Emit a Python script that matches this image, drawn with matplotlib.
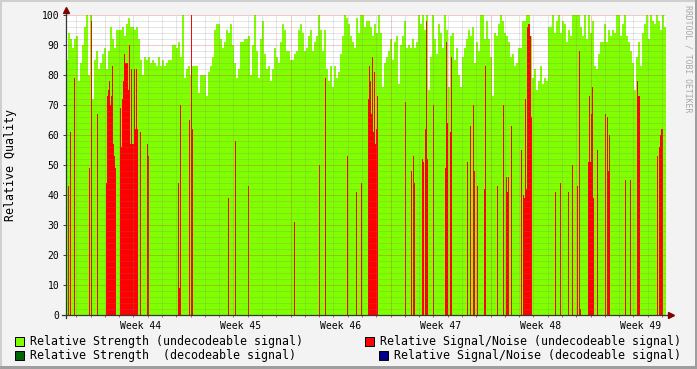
import numpy as np
import matplotlib
matplotlib.use("Agg")
import matplotlib.pyplot as plt
from matplotlib.patches import Rectangle

W, H = 697, 369

# relative strength (undecodeable), one value per 2 samples
strength_a = [85, 94, 92, 89, 92, 93, 78, 84, 90, 96, 100, 80, 100, 72, 85, 88, 82, 84, 87, 89,
              82, 88, 96, 92, 89, 95, 95, 95, 96, 93, 97, 99, 96, 96, 95, 96, 92, 85, 80, 86,
              85, 86, 84, 85, 84, 83, 86, 83, 85, 83, 84, 85, 85, 90, 90, 89, 91, 86, 100, 79,
              82, 83, 80, 83, 83, 83, 74, 80, 80, 80, 73, 81, 83, 86, 95, 97, 97, 92, 89, 91,
              95, 94, 97, 90, 84, 79, 82]
strength_b = [91, 91, 92, 92, 93, 80, 90, 100, 88, 79, 92, 98, 87, 82, 83, 78, 82, 89, 86, 84,
              91, 97, 95, 88, 88, 85, 85, 87, 88, 95, 97, 94, 88, 89, 93, 95, 88, 91, 93, 100,
              95, 88, 95, 82, 78, 83, 76, 83, 79, 81, 87, 93, 100, 99, 97, 93, 91, 89, 99, 94,
              100, 100, 96, 98, 98, 96, 93, 97, 94, 100, 94, 76, 84, 86, 88, 92, 85, 91, 93, 77,
              90, 93, 98, 89, 90, 89, 92, 89, 91, 100, 97, 100, 95, 100, 75, 86, 100, 92, 87, 97,
              94, 89, 100, 95, 76, 93, 94, 85, 89, 80, 76, 86, 89, 92, 95]
strength_c = [93, 96, 84, 91, 88, 100, 100, 92, 98, 92, 86, 73, 94, 93, 97, 100, 98, 94, 93, 91,
              86, 87, 83, 84, 89, 89, 98, 98, 100, 100, 93, 79, 82, 75, 78, 83, 77, 79, 78, 96,
              96, 100, 94, 98, 100, 94, 98, 97, 91, 95, 93, 100, 100, 100, 100, 96, 93, 100, 92, 100,
              94, 98, 83, 82, 87, 91, 91, 97, 91, 95, 93, 95, 94, 100, 100, 93, 97, 100, 93, 91,
              88, 84, 75, 86, 91, 83, 94, 97, 100, 92, 100, 98, 97, 100, 98, 95, 100, 96]

# relative signal/noise (undecodeable): sample index -> value
snr_idx = [2, 4, 8, 23, 25, 31,
           40, 41, 42, 43, 44, 45, 46, 47, 48, 49,
           54, 55, 56, 57, 58, 59, 60, 61, 62, 63, 64, 65, 66, 67, 68, 69, 70, 71, 74, 81, 82,
           112, 113, 114, 123, 125, 126, 162, 169, 182,
           228, 253, 259, 281, 290, 295,
           302, 303, 304, 305, 306, 307, 308, 309, 310, 311,
           339, 345, 347, 348, 356, 357, 359, 360, 361, 367, 379, 380, 381, 384, 385, 401, 404,
           407, 408, 411,
           418, 419, 431, 437, 440, 441, 442, 445, 455, 457, 458, 459, 460, 461, 462, 463, 464, 465,
           489, 494, 502, 506, 511, 513, 514, 522, 523, 524, 525, 526, 527, 531, 539, 541, 542, 543,
           559, 564, 571, 572, 573, 591, 593, 594, 595, 596]
snr_val = [43, 61, 79, 49, 98, 67,
           44, 73, 75, 78, 70, 73, 83, 57, 53, 49,
           69, 56, 72, 78, 87, 84, 84, 84, 75, 90, 57, 82, 57, 57, 82, 62, 82, 62, 61, 57, 53,
           44, 9, 70, 65, 100, 62, 39, 58, 43,
           31, 50, 79, 53, 41, 44,
           72, 83, 78, 67, 86, 61, 81, 57, 62, 73,
           71, 48, 53, 44, 52, 51, 62, 98, 52, 70, 49, 91, 64, 61, 86, 51, 63,
           70, 48, 43,
           42, 83, 43, 70, 46, 41, 46, 63, 55, 40, 39, 72, 42, 96, 97, 97, 93, 66,
           41, 44, 41, 50, 43, 88, 2, 51, 73, 51, 67, 76, 39, 55, 67, 66, 48, 60,
           45, 45, 78, 73, 73, 53, 56, 60, 62, 62]

week_labels = ["Week 44", "Week 45", "Week 46", "Week 47", "Week 48", "Week 49"]

strength = np.repeat(np.concatenate([strength_a, strength_b, strength_c]), 2)
n = len(strength)

mono = "DejaVu Sans Mono"
axis_col = "#303838"

fig = plt.figure(figsize=(W / 100, H / 100), dpi=100, facecolor="#F3F3F3")
ax = fig.add_axes([66 / W, 1 - 315 / H, 600 / W, 300 / H])
ax.set_facecolor("white")

ax.bar(np.arange(n), strength, width=1, align="edge", color="#7FFF00",
       linewidth=0, antialiased=False, zorder=1)
ax.bar(snr_idx, snr_val, width=1, align="edge", color="#FF0000",
       linewidth=0, antialiased=False, zorder=2)
ax.set_xlim(0, 600)
ax.set_ylim(0, 100)

# grid drawn over the data, rrdtool style
minor_c = (0.5, 0.5, 0.5, 0.4)
major_c = (0.8, 0.15, 0.15, 0.5)
for v in range(2, 101, 2):
    ax.axhline(v, color=major_c if v % 10 == 0 else minor_c, lw=0.72,
               ls=(0, (1, 1)), zorder=3)
day = 100 / 7
days = [24.5 + day * j for j in range(-1, 42) if 0 < 24.5 + day * j < 600]
for j, d in enumerate(days):
    is_week = abs(((d - 24.5) / 100) - round((d - 24.5) / 100)) < 1e-6
    ax.axvline(d, color=major_c if is_week else minor_c, lw=0.72,
               ls=(0, (1, 1)), zorder=3)

for s in ax.spines.values():
    s.set_visible(False)
ax.plot([-0.006, 1.008], [0, 0], transform=ax.transAxes, clip_on=False,
        color=axis_col, lw=0.9, zorder=5)
ax.plot([0, 0], [-0.01, 1.015], transform=ax.transAxes, clip_on=False,
        color=axis_col, lw=0.9, zorder=5)
ax.plot(1.009, 0, marker=">", ms=4.5, color="#7F0000", mec="#7F0000",
        transform=ax.transAxes, clip_on=False, zorder=6)
ax.plot(0, 1.018, marker="^", ms=4.5, color="#7F0000", mec="#7F0000",
        transform=ax.transAxes, clip_on=False, zorder=6)

ax.set_yticks(range(0, 101, 10))
ax.set_yticklabels([str(v) for v in range(0, 101, 10)], family=mono, fontsize=7)
ax.tick_params(axis="y", length=2.2, width=0.7, color=axis_col, pad=2.5)
ax.set_xticks([74.5 + 100 * k for k in range(len(week_labels))])
ax.set_xticklabels(week_labels, family=mono, fontsize=7)
ax.set_xticks(days, minor=True)
ax.tick_params(axis="x", which="major", length=0, pad=4)
ax.tick_params(axis="x", which="minor", length=1.5, width=0.7, color=(0.8, 0.3, 0.3))

fig.text(11 / W, 1 - 165 / H, "Relative Quality", rotation=90, ha="center",
         va="center", family=mono, fontsize=8.35)
fig.text(688 / W, 1 - 59 / H, "RRDTOOL / TOBI OETIKER", rotation=270, ha="center",
         va="center", family=mono, fontsize=5.9, color="#A8A8A8")

legend = [
    (15, 30, 345, "#7FFF00", "Relative Strength (undecodeable signal)"),
    (15, 30, 359, "#006400", "Relative Strength  (decodeable signal)"),
    (365, 380, 345, "#FF0000", "Relative Signal/Noise (undecodeable signal)"),
    (379, 394, 359, "#00008B", "Relative Signal/Noise (decodeable signal)"),
]
for bx, tx, base, col, label in legend:
    fig.add_artist(Rectangle((bx / W, 1 - (base + 1) / H), 9 / W, 9 / H,
                             transform=fig.transFigure, facecolor=col,
                             edgecolor="black", lw=0.72))
    fig.text(tx / W, 1 - base / H, label, ha="left", va="baseline",
             family=mono, fontsize=8.35)

# 3d-ish frame
fig.add_artist(Rectangle((0, 0), 2 / W, 1, transform=fig.transFigure,
                         facecolor="#CFCFCF", lw=0))
fig.add_artist(Rectangle((0, 1 - 2 / H), 1, 2 / H, transform=fig.transFigure,
                         facecolor="#CFCFCF", lw=0))
fig.add_artist(Rectangle((1 - 2 / W, 0), 2 / W, 1, transform=fig.transFigure,
                         facecolor="#9E9E9E", lw=0))
fig.add_artist(Rectangle((0, 0), 1, 3 / H, transform=fig.transFigure,
                         facecolor="#9E9E9E", lw=0))

fig.savefig("out.png", dpi=100, facecolor=fig.get_facecolor())
